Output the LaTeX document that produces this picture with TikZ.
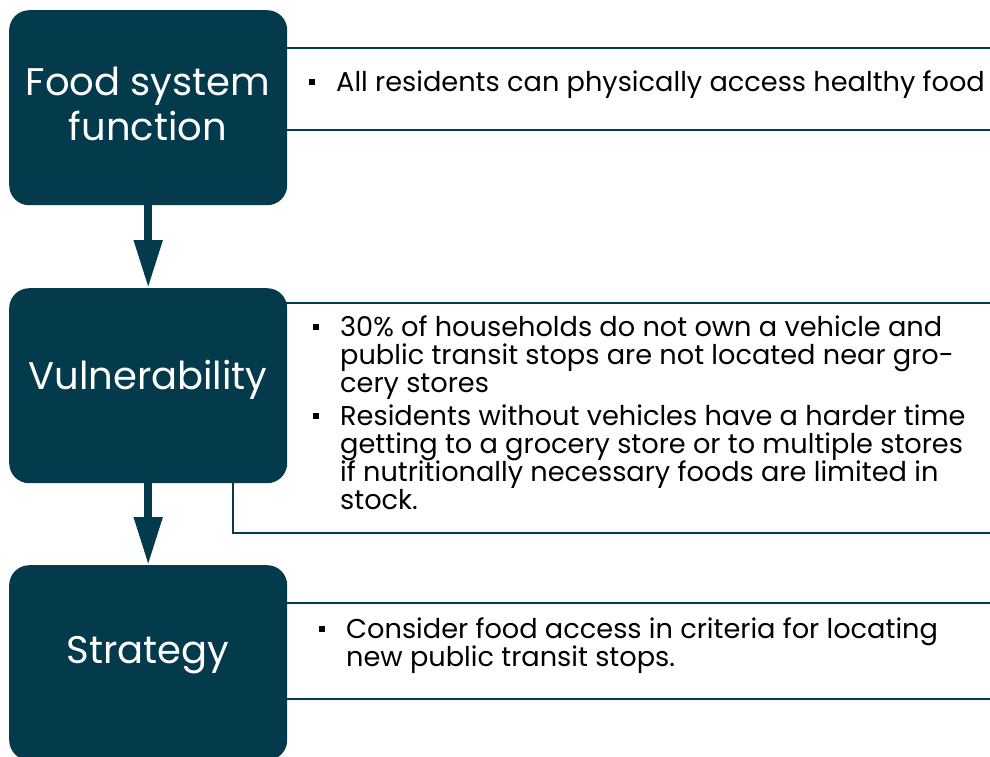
\documentclass[tikz,border=0pt]{standalone}
\usepackage{fontspec}
\setmainfont{Poppins}
\usetikzlibrary{arrows.meta}
\definecolor{teal}{HTML}{033A4C}
\newcommand\bsq{\raisebox{6pt}{\rule{6pt}{6pt}}}
\newcommand\Lb[1]{\hbox{\makebox[27pt][l]{\bsq}#1}}
\newcommand\Lc[1]{\hbox{\hspace*{27pt}#1}}
\newcommand\blines[1]{\vtop{\baselineskip=28pt\lineskiplimit=-100pt\lineskip=0pt\parindent=0pt #1}}
\tikzset{
  box/.style={fill=teal, rounded corners=20pt, minimum width=278pt, minimum height=195pt, anchor=north west, inner sep=0pt},
  ttl/.style={text=white, font=\fontsize{38.5}{45}\selectfont, align=center, inner sep=0pt},
  panel/.style={draw=teal, line width=2pt, anchor=north west, inner sep=0pt},
  bul/.style={text=black, font=\fontsize{27.2}{28}\selectfont, inner sep=0pt, anchor=base west},
  arr/.style={draw=teal, line width=8pt, -{Triangle[length=48pt,width=27pt]}},
}
\begin{document}
\begin{tikzpicture}[x=1pt,y=-1pt]
\useasboundingbox (0,0) rectangle (990,756);
\clip (0,0) rectangle (990,756);
% panels
\node[panel, minimum width=760pt, minimum height=82pt] (p1) at (232,47) {};
\node[panel, minimum width=760pt, minimum height=230pt] (p2) at (232,302) {};
\node[panel, minimum width=760pt, minimum height=96pt] (p3) at (232,602) {};
% boxes
\node[box] (b1) at (9,10) {};
\node[box] (b2) at (9,288) {};
\node[box] (b3) at (9,565) {};
% titles
\node[ttl] (t1) at (148,104) {Food system\\function};
\node[ttl] (t2) at (148,380) {Vulnerability};
\node[ttl] (t3) at (148,655) {Strategy};
% arrows
\draw[arr] (b1.south) -- (b2.north);
\draw[arr] (b2.south) -- (b3.north);
% bullet texts
\node[bul] (x1) at (309,91) {\blines{\Lb{All residents can physically access healthy food}}};
\node[bul] (x2) at (313,336) {\blines{%
\Lb{30\% of households do not own a vehicle and}
\Lc{public transit stops are not located near gro-}
\Lc{cery stores}
\vskip5pt
\Lb{Residents without vehicles have a harder time}
\Lc{getting to a grocery store or to multiple stores}
\Lc{if nutritionally necessary foods are limited in}
\Lc{stock.}}};
\node[bul] (x3) at (319,638) {\blines{%
\Lb{Consider food access in criteria for locating}
\Lc{new public transit stops.}}};
\end{tikzpicture}
\end{document}
